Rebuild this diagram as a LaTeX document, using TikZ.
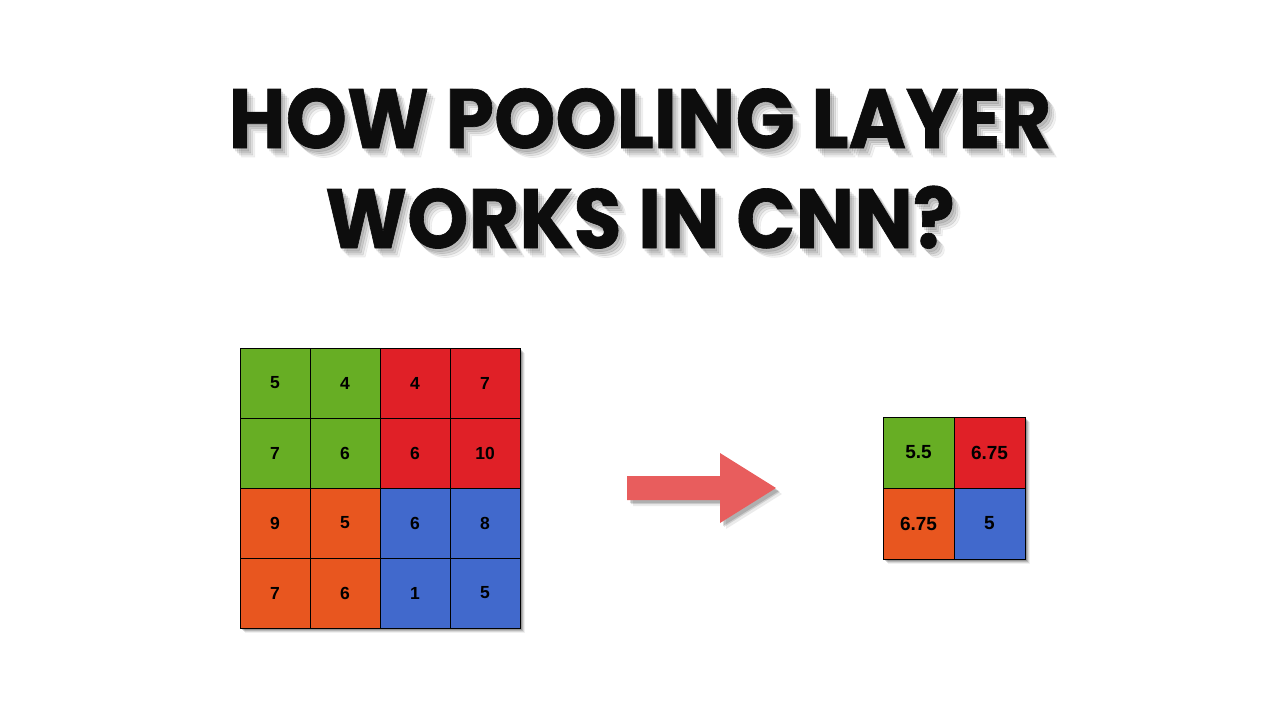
\documentclass[tikz,border=0pt]{standalone}
\usepackage{fontspec}
\setmainfont{Poppins}
\newfontfamily\titlefont[BoldFeatures={FakeBold=0.8}]{Poppins}
\newfontfamily\cellfont{Liberation Sans}
\definecolor{cgreen}{HTML}{67AE24}
\definecolor{cred}{HTML}{E02027}
\definecolor{corange}{HTML}{E8561F}
\definecolor{cblue}{HTML}{4169CC}
\definecolor{carrow}{HTML}{E85D5D}
\tikzset{
  titletext/.style={font=\titlefont\fontsize{84}{90}\selectfont\bfseries, inner sep=0pt, anchor=base, xscale=0.928},
  bigcell/.style={draw=black, line width=0.8pt, minimum size=70pt, inner sep=0pt, font=\cellfont\bfseries\fontsize{17.5}{20}\selectfont},
  smallcell/.style={draw=black, line width=0.8pt, minimum size=71pt, inner sep=0pt, font=\cellfont\bfseries\fontsize{19}{22}\selectfont},
}
\begin{document}
\begin{tikzpicture}[x=1pt,y=-1pt]
\useasboundingbox (0,0) rectangle (1280,720);
\fill[white] (0,0) rectangle (1280,720);
% title shadows
\foreach \dx/\dy/\op in {2/3/0.09,4/5/0.09,6/7/0.08,8/9/0.05}{
  \node[titletext, text=black, opacity=\op] at (640+\dx,148+\dy) {HOW POOLING LAYER};
  \node[titletext, text=black, opacity=\op] at (640+\dx,248+\dy) {WORKS IN CNN?};
}
\node[titletext, text=black!95] (t1) at (640,148) {HOW POOLING LAYER};
\node[titletext, text=black!95] (t2) at (640,248) {WORKS IN CNN?};
% big grid shadow
\foreach \o/\op in {2/0.18,3/0.14,4/0.1,5/0.06}{
  \fill[black, opacity=\op] (240+\o,348+\o) rectangle (520+\o,628+\o);
}
% big grid
\foreach \r [count=\i from 0] in {{5,4,4,7},{7,6,6,10},{9,5,6,8},{7,6,1,5}}{
  \foreach \v [count=\j from 0] in \r {
    \pgfmathsetmacro{\cx}{275+70*\j}
    \pgfmathsetmacro{\cy}{383+70*\i}
    \ifnum\i<2 \ifnum\j<2 \def\cc{cgreen}\else\def\cc{cred}\fi
    \else \ifnum\j<2 \def\cc{corange}\else\def\cc{cblue}\fi\fi
    \node[bigcell, fill=\cc] (b\i\j) at (\cx,\cy) {\v};
  }
}
% arrow
\foreach \o/\op in {3/0.15,4/0.12,6/0.08}{
  \fill[black, opacity=\op] (627+\o,476+\o) -- (720+\o,476+\o) -- (720+\o,453+\o) -- (776+\o,488+\o) -- (720+\o,523+\o) -- (720+\o,500+\o) -- (627+\o,500+\o) -- cycle;
}
\fill[carrow] (627,476) -- (720,476) -- (720,453) -- (776,488) -- (720,523) -- (720,500) -- (627,500) -- cycle;
% small grid shadow
\foreach \o/\op in {2/0.18,3/0.14,4/0.1,5/0.06}{
  \fill[black, opacity=\op] (883+\o,417+\o) rectangle (1025+\o,559+\o);
}
\node[smallcell, fill=cgreen] (s00) at (918.5,452.5) {5.5};
\node[smallcell, fill=cred] (s01) at (989.5,452.5) {6.75};
\node[smallcell, fill=corange] (s10) at (918.5,523.5) {6.75};
\node[smallcell, fill=cblue] (s11) at (989.5,523.5) {5};
\end{tikzpicture}
\end{document}
